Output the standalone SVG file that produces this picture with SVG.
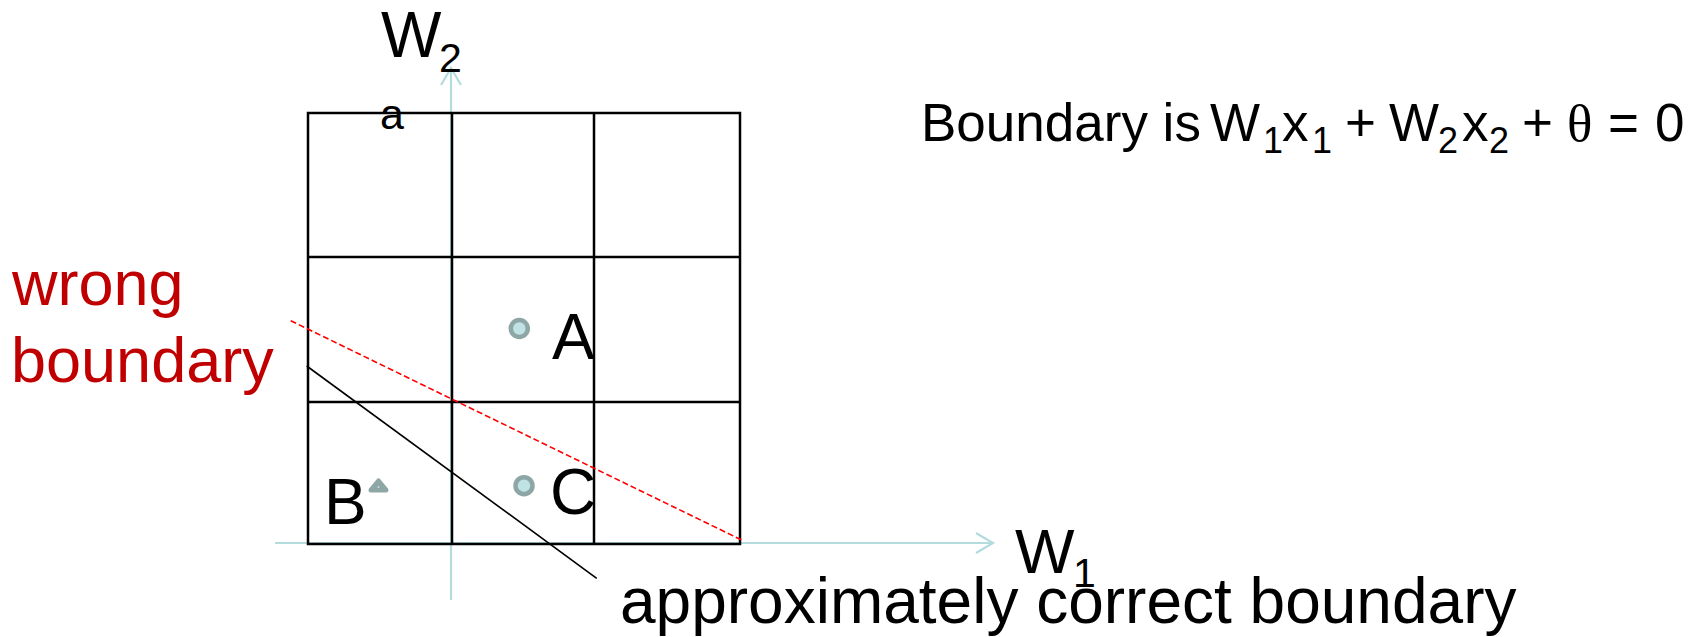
<svg xmlns="http://www.w3.org/2000/svg" width="1704" height="637" viewBox="0 0 1704 637">
<defs>
<style>
.t{font-family:"Liberation Sans",Arial,sans-serif;fill:#000}
.big{font-size:64px}
.eq{font-size:53px}
.sub{font-size:36px}
.axsub{font-size:41px}
.red{fill:#c00000;font-size:63px}
.axis{stroke:#b4dcdf;stroke-width:2.2;fill:none}
.grid{stroke:#000;stroke-width:2.5;fill:none}
.pt{fill:#bfe2e4;stroke:#8fa6a6;stroke-width:4.5}
</style>
</defs>
<rect width="1704" height="637" fill="#fff"/>
<g id="axes">
<line class="axis" x1="451" y1="600" x2="451" y2="68"/>
<polyline class="axis" points="441,85 451,68 461,85"/>
<line class="axis" x1="275" y1="543" x2="993" y2="543"/>
<polyline class="axis" points="976,533 993,543 976,553"/>
</g>
<g id="grid">
<rect class="grid" x="308" y="113" width="432" height="431"/>
<line class="grid" x1="452" y1="113" x2="452" y2="544"/>
<line class="grid" x1="594" y1="113" x2="594" y2="544"/>
<line class="grid" x1="308" y1="257" x2="740" y2="257"/>
<line class="grid" x1="308" y1="402" x2="740" y2="402"/>
</g>
<g id="connectors">
<line x1="290.7" y1="320.7" x2="741.7" y2="540" stroke="#ff0000" stroke-width="1.6" stroke-dasharray="6,3"/>
<line x1="306.7" y1="366" x2="596.7" y2="578.3" stroke="#000" stroke-width="1.6"/>
</g>
<g id="pointA">
<circle class="pt" cx="519.3" cy="328.5" r="8.5"/>
<text class="t big" x="552" y="359">A</text>
</g>
<g id="pointB">
<polygon points="371,490 378.5,481 386,490" fill="#8fa6a6" stroke="#8fa6a6" stroke-width="5" stroke-linejoin="round"/>
<circle cx="378.5" cy="487" r="1" fill="#bfe2e4"/>
<text class="t big" x="324" y="524">B</text>
</g>
<g id="pointC">
<circle class="pt" cx="524" cy="485.7" r="8.5"/>
<text class="t big" x="550" y="514">C</text>
</g>
<g id="labels">
<text class="t big" x="381" y="57">W<tspan class="axsub" x="439" y="71.5">2</tspan></text>
<text class="t" style="font-size:43px" x="380" y="129">a</text>
<text class="t" style="font-size:63px" x="1015" y="572.5">W<tspan class="axsub" x="1073" y="587">1</tspan></text>
<text class="t big" x="620" y="623">approximately correct boundary</text>
<text class="t red" x="12" y="305">wrong</text>
<text class="t red" x="11" y="382">boundary</text>
<text class="t eq" x="921" y="141">Boundary is<tspan x="1210" y="141">W</tspan><tspan class="sub" x="1263" y="153">1</tspan><tspan x="1282" y="141">x</tspan><tspan class="sub" x="1312" y="153">1</tspan><tspan x="1345" y="141">+</tspan><tspan x="1389" y="141">W</tspan><tspan class="sub" x="1438" y="153">2</tspan><tspan x="1462" y="141">x</tspan><tspan class="sub" x="1489" y="153">2</tspan><tspan x="1522" y="141">+</tspan><tspan x="1567" y="141" style="font-family:'Liberation Serif','Times New Roman',serif">θ</tspan><tspan x="1608" y="141">=</tspan><tspan x="1655" y="141">0</tspan></text>
</g>
</svg>
